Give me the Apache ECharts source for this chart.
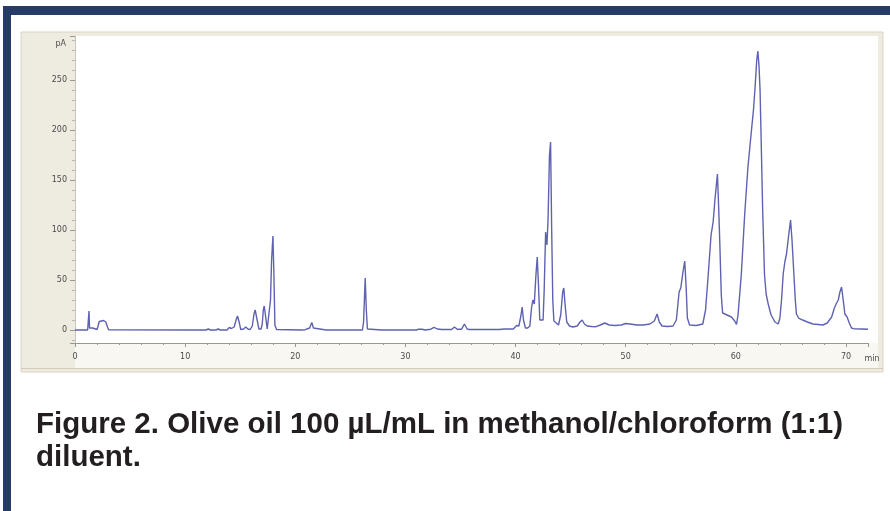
<!DOCTYPE html>
<html>
<head>
<meta charset="utf-8">
<script src="https://cdn.jsdelivr.net/npm/echarts@6/dist/echarts.min.js"></script>
<style>
html,body{margin:0;padding:0;background:#fff;}
#c{width:890px;height:511px;}
</style>
</head>
<body>
<div id="c"></div>
<script>
// Retention time (min) and detector signal (pA)
const times = [
  0.0, 1.15, 1.22, 1.27, 1.32, 1.4, 1.48, 1.6, 1.7, 2.0, 2.1, 2.2, 2.35, 2.6, 2.8, 2.95, 3.05,
  10.4, 10.55, 10.7, 11.9, 12.1, 12.3, 12.8, 13.0, 13.2, 13.8, 14.0, 14.2, 14.45, 14.65, 14.76, 14.9, 15.05,
  15.3, 15.5, 15.7, 15.9, 16.1, 16.25, 16.36, 16.5, 16.7, 16.9, 17.0, 17.1, 17.18, 17.3, 17.45, 17.6,
  17.75, 17.85, 17.97, 18.05, 18.15, 18.3, 20.6, 20.75, 20.9, 21.3, 21.5, 21.65, 21.8, 22.8, 22.95, 23.1,
  24.8, 24.95, 25.1, 26.1, 26.2, 26.28, 26.35, 26.45, 26.55, 26.7, 27.85, 28.0, 28.15, 29.9, 30.05, 30.2,
  31.0, 31.2, 31.5, 31.8, 32.3, 32.6, 32.9, 33.3, 34.2, 34.45, 34.7, 35.1, 35.36, 35.6, 35.8, 38.5, 39.0,
  39.8, 40.1, 40.3, 40.48, 40.6, 40.72, 40.9, 41.1, 41.3, 41.45, 41.57, 41.7, 41.85, 41.97, 42.1, 42.2,
  42.35, 42.5, 42.6, 42.73, 42.85, 42.95, 43.08, 43.18, 43.28, 43.38, 43.48, 43.7, 43.9, 44.1, 44.28,
  44.38, 44.5, 44.65, 44.9, 45.2, 45.6, 45.85, 46.05, 46.25, 46.5, 46.9, 47.3, 47.7, 48.1, 48.5, 49.0,
  49.6, 50.0, 50.4, 51.0, 51.6, 52.2, 52.6, 52.85, 53.05, 53.3, 53.8, 54.3, 54.6, 54.85, 55.0, 55.2,
  55.36, 55.48, 55.6, 55.8, 56.4, 57.0, 57.25, 57.5, 57.75, 57.94, 58.1, 58.33, 58.45, 58.55, 58.68,
  58.8, 59.2, 59.6, 59.76, 59.9, 60.06, 60.2, 60.5, 60.8, 61.1, 61.36, 61.6, 61.73, 61.9, 62.0, 62.1,
  62.2, 62.3, 62.43, 62.6, 62.75, 62.94, 63.2, 63.55, 63.85, 64.0, 64.15, 64.3, 64.45, 64.6, 64.8,
  64.97, 65.1, 65.27, 65.4, 65.5, 65.7, 66.06, 66.5, 67.0, 67.5, 67.9, 68.3, 68.7, 68.95, 69.1, 69.3,
  69.45, 69.6, 69.75, 69.9, 70.1, 70.3, 70.5, 70.7, 71.4, 72.0
];
const signal = [
  0, 0, 1, 19, 2, 4, 1, 2, 0.5, 0.5, 4, 8.5, 9.5, 9.5, 8, 3, 0.3,
  0, 1.2, 0, 0, 1, 0, 0, 1, 0, 0, 2.5, 1.5, 3, 11, 14, 8, 0.5,
  1, 3, 1, 0.5, 4, 16, 20, 12, 1, 1, 6, 20, 24, 14, 1, 2,
  30, 70, 94, 60, 5, 0.5, 0, 1, 0.3, 2, 7.5, 2, 0, 0, 1, 0,
  0, 1, 0, 0, 8, 32, 52, 20, 1, 0, 0, 1, 0, 0, 1, 0,
  0, 0.8, 0.8, 0, 0.8, 2.7, 1, 0.5, 0.5, 3, 0.8, 0.8, 6, 1, 0.5, 0.5, 1,
  1, 4.5, 4, 14, 23, 10, 2, 2, 4, 22, 30, 26, 55, 73, 40, 10,
  8, 10, 40, 98, 85, 110, 175, 188, 100, 30, 9, 7, 5, 15, 38,
  42, 25, 8, 4, 3, 4, 8, 10, 6, 4, 3.5, 3.3, 5, 7, 5, 4.5,
  5, 6.5, 6, 5, 5, 6, 9, 16, 8, 4, 3.5, 4, 10, 38, 42, 58,
  69, 45, 12, 5, 4.5, 6, 20, 56, 95, 108, 130, 156, 120, 85, 35,
  17, 15, 13, 14, 9, 5.5, 15, 56, 115, 163, 193, 220, 240, 270, 279, 265,
  240, 190, 123, 56, 36, 26, 15, 8, 6, 12, 30, 56, 68, 76, 95,
  110, 90, 56, 30, 16, 12, 10, 8, 6, 5.5, 5, 7, 13, 22, 26, 30,
  38, 43, 30, 16, 13, 7, 2, 1.3, 1, 0.7
];
const xTickLabels = ['0', '10', '20', '30', '40', '50', '60', '70'];
const yTickLabels = ['0', '50', '100', '150', '200', '250'];
const captionLines = ['Figure 2. Olive oil 100 µL/mL in methanol/chloroform (1:1)', 'diluent.'];

const data = times.map((t, i) => [t, signal[i]]);

const chart = echarts.init(document.getElementById('c'), null, {renderer: 'canvas'});
const axisGray = '#9a978e';
const labelColor = '#4a4a4a';
const captionFont = 'bold 29.5px "Liberation Sans", Arial, sans-serif';
chart.setOption({
  animation: false,
  backgroundColor: '#ffffff',
  graphic: [
    {type: 'rect', shape: {x: 3, y: 6, width: 887, height: 9}, style: {fill: '#263b66'}, z: 0},
    {type: 'rect', shape: {x: 3, y: 6, width: 8, height: 505}, style: {fill: '#263b66'}, z: 0},
    {type: 'rect', shape: {x: 21, y: 32, width: 862, height: 340}, style: {fill: '#eeebe0', stroke: '#d9d4c6', lineWidth: 1}, z: 0},
    {type: 'rect', shape: {x: 75, y: 36, width: 803, height: 307}, style: {fill: '#ffffff'}, z: 0},
    {type: 'rect', shape: {x: 75, y: 343, width: 803, height: 25}, style: {fill: '#f8f7f2'}, z: 0},
    {type: 'line', shape: {x1: 21, y1: 368.5, x2: 883, y2: 368.5}, style: {stroke: '#d2cdbf', lineWidth: 1}, z: 0},
    {type: 'text', x: 66, y: 44, style: {text: 'pA', font: '8px "DejaVu Sans"', fill: labelColor, align: 'right', verticalAlign: 'middle'}, z: 5},
    {type: 'text', x: 872, y: 359, style: {text: 'min', font: '8px "DejaVu Sans"', fill: labelColor, align: 'center', verticalAlign: 'middle'}, z: 5},
    {type: 'text', x: 36, y: 425, style: {text: captionLines[0], font: captionFont, fill: '#231f20', align: 'left', verticalAlign: 'middle'}, z: 5},
    {type: 'text', x: 36, y: 458, style: {text: captionLines[1], font: captionFont, fill: '#231f20', align: 'left', verticalAlign: 'middle'}, z: 5}
  ],
  grid: {left: 75, top: 36, width: 793, height: 307, containLabel: false},
  xAxis: {
    type: 'value', min: 0, max: 72, interval: 10,
    axisLine: {show: true, onZero: false, lineStyle: {color: axisGray, width: 1}},
    axisTick: {show: true, length: 4, inside: false, lineStyle: {color: axisGray}},
    minorTick: {show: true, splitNumber: 5, length: 2, lineStyle: {color: axisGray}},
    axisLabel: {
      margin: 10, fontSize: 8, fontFamily: 'DejaVu Sans', color: labelColor, showMaxLabel: false,
      formatter: v => xTickLabels.includes(String(v)) ? String(v) : ''
    },
    splitLine: {show: false}
  },
  yAxis: {
    type: 'value', min: -13, max: 294, splitNumber: 6,
    axisLine: {show: true, lineStyle: {color: '#c9c5b8', width: 1}},
    axisTick: {show: true, length: 5, lineStyle: {color: axisGray}},
    minorTick: {show: true, splitNumber: 5, length: 3, lineStyle: {color: '#b9b5a9'}},
    axisLabel: {
      margin: 8, fontSize: 8, fontFamily: 'DejaVu Sans', color: labelColor,
      showMinLabel: false, showMaxLabel: false,
      formatter: v => yTickLabels.includes(String(v)) ? String(v) : ''
    },
    splitLine: {show: false}
  },
  series: [{
    type: 'line',
    data: data,
    showSymbol: false,
    symbol: 'none',
    smooth: false,
    lineStyle: {color: '#5f62b0', width: 1.4},
    z: 3
  }]
});
</script>
</body>
</html>
